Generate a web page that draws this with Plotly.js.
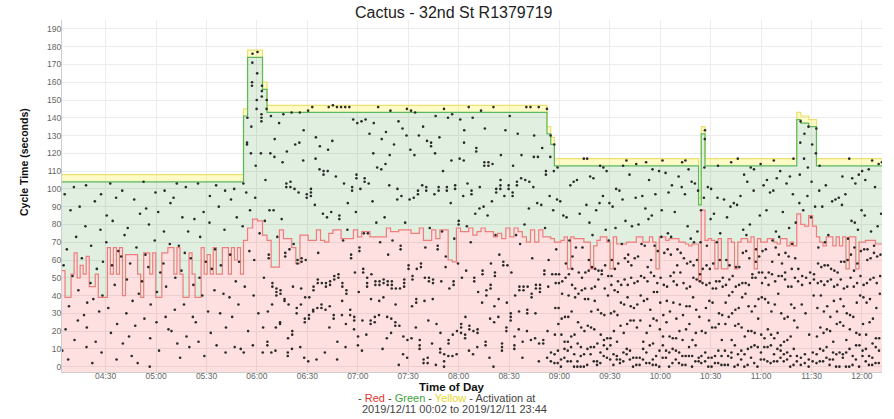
<!DOCTYPE html>
<html><head><meta charset="utf-8">
<script src="https://cdn.plot.ly/plotly-3.0.1.min.js"></script>
<style>html,body{margin:0;padding:0;background:#fff}#chart{width:894px;height:419px}</style>
</head><body><div id="chart"></div>
<script>
// ---- timing plans (cycle length in seconds, number of consecutive cycles) ----
const planLen   = [108,145,178,160,147,135,129,117,95,135,117,143,141,141,139,139,117];
const planCount = [60,  1,  3,  1, 68,  1,  1, 44, 1,  1, 28,  1,  1,  1,  1,  1, 20];
const yellowTime = 4;

// ---- end of red (start of green) per cycle, seconds ----
const redA = [54,39,39,52,64,50,57,52,62,45,45,52,39,39,39,67,52,67,52,67,40,63,63,63,63,52,39,64,64,52,64,39,39,64,64,67,67,52,67,52,39,39,64,52,39,39,67,52,63,52,67,52,52,67,67,52,67,60,67,52];
const redB = [71,78,83,82,74];
const redC = [71,56,56,77,72,72,67,58,74,74,71,71,77,71,70,75,77,77,72,72,72,77,73,76,76,73,73,73,73,78,76,76,77,77,77,75,75,78,71,71,77,72,77,77,60,59,78,76,76,78,74,76,78,76,76,73,75,72,78,73,78,76,73,70,77,70,77,73];
const redT = [73,72];
const redD1 = [70,70,71,73,55,73,72,72,72,70,70,55,68,71,73,73,70,55,73,69,69,69,70,70,70,73,73,70,70,73,70,55,73,73,71,72,72,72,70,70,69,68,69,69];
const redS = [48,88];
const redD2 = [71,72,71,55,72,55,55,72,70,55,70,72,72,70,73,55,72,70,70,72,72,70,69,72,72,68,70,68];
const redBump = [86,80,79,85,79];
const redD3 = [73,70,68,73,73,68,73,68,73,55,73,73,55,70,70,71,71,71,69,69];

// ---- vehicle activations per cycle (seconds into cycle) ----
const dotsA = ["9 57 97","21 66","34 88 4","101 51","15 73","43 90 26","61","29 79 102","22 36 11","47 68",
"38 93 2","55 14","97 31 77","59 8 40","70 85","33 103","19 82 57","46 95","4 24 65","62 99",
"13 74","78 49 30","17 58","94 6 37","23 67","2 41 86","48 104","27 63 89","56 80","0 16 35",
"71 98","42 87 25","53 9","99 58 76","28 45","69 21 92","20 95","32 50 103","68 13","54 84 5",
"35 101 64","76 17","11 61","83 46 28","25 103","73 14 50","40 87","6 59","31 81 96","19 55",
"66 43 102","12 90","30 57","41 77 99","8 22","63 39 94","100 28","48 84 11","59 35","10 79 103"];
const dotsB = ["125 126 140 8 45 98","158 160 171 120 20 88 135 65 176","177 165 150 145 113 95 40 60 12","155 152 158 142 138 120 75 30 140","150 145 105 82 50 22 8"];
const dotsC = ["12 14 31 61 63 88 120 141","8 35 45 47 88 118 128","9 22 40 42 44 73 137","24 25 41 43 83 115 142","37 38 62 64 101 103 121",
"6 8 16 35 101 104 143 66","10 18 20 45 69 100 125","30 33 58 60 98 126 143","11 35 44 59 61 116 133","5 25 27 39 60 95 97 144",
"3 27 29 39 96 98 100 146","31 32 43 45 91 117 129","4 33 47 49 64 111 124","33 35 47 86 108 110","8 32 45 47 84 110 122 146",
"22 34 46 48 87 127 147","27 29 49 51 107 146","4 14 50 52 83 85 146","29 37 45 47 71 103 146","11 24 41 43 77 146 92",
"29 32 61 63 99 101 139","21 26 28 53 87 106 108 137","12 17 42 65 67 100 138","9 26 53 55 75 104 106 139","18 45 47 50 75 103 131",
"24 26 38 52 93 120 137","25 28 46 48 81 112 146","29 37 46 48 111 128 70","10 39 47 49 84 114 132","16 28 46 48 63 102 119 144",
"19 27 44 46 48 71 125","23 25 35 44 94 100 138","1 23 44 66 68 96 134","7 17 45 47 49 81 130 145","5 15 55 57 94 122 144",
"34 49 51 95 119 143 16","22 36 38 55 97 99 130","10 12 15 56 58 102 135","2 4 37 50 67 99 101 127","2 5 26 48 50 78 124 126",
"13 38 47 49 97 120 141","1 24 66 68 99 101 129","8 10 19 48 76 110 145","0 3 7 56 62 99 101 140","6 13 15 44 92 116 142",
"6 18 46 48 72 100 102","7 58 80 82 117 139 20","19 22 24 50 96 116 126 133","16 18 28 54 79 103 146","9 21 23 70 97 99 140",
"7 20 48 50 86 121 123","11 19 21 42 89 101 144","36 52 54 90 113 115 134","12 14 40 43 85 113 115","5 27 44 46 58 93 114 146",
"0 25 34 51 53 74 98 100","28 38 63 100 102 105 119","9 11 13 57 59 96 133","20 22 36 57 100 102 141","26 28 30 53 96 98 113",
"10 12 17 40 74 102 104 131","21 31 43 45 69 106 119","5 14 43 45 80 105 146","20 30 32 45 89 104 146","15 39 41 61 101 118 130",
"16 30 44 46 92 118 146","3 13 42 44 46 91 123","13 15 52 54 78 108 110 145"];
const dotsT = ["130 118 96 60 45 20 5","125 110 88 52 8 3"];
const dotsD1 = ["2 7 18 33 47 52 66 94 112","2 9 24 33 47 52 93","0 4 18 27 41 48 85","5 10 14 28 50 58 84","3 9 14 28 40 52 71 102",
"3 11 17 31 46 55 62 104","0 7 18 39 44 67 105","0 3 13 25 41 53 86","0 6 11 22 43 50 67 117","0 7 20 38 44 53 91 117",
"1 10 23 38 54 60 81 107","7 11 22 31 44 56 74 106","3 11 21 37 45 55 88","1 3 13 32 49 54 92 113","2 8 18 30 52 54 96 112",
"6 12 15 29 44 57 77 110","5 10 16 40 51 71 92","4 12 16 30 46 51 60 90","1 7 31 20 43 55 78 100","4 6 14 29 42 48 58 99",
"2 4 23 36 46 69 94 113","3 8 19 35 49 61 82 116","7 10 24 39 46 59 63 108","4 9 26 34 50 57 79","0 5 33 26 47 61 95 114",
"1 5 35 22 48 62 80","1 5 26 40 51 69 96","4 10 14 37 50 68 89 115","2 8 19 38 48 56 83 105","2 12 32 23 53 60 85 111",
"1 4 13 27 42 51 68 97","1 6 42 26 47 65 110","0 9 21 36 50 73 88 116","5 12 17 29 46 64 109","5 9 25 37 45 66 75 98",
"0 8 17 31 51 63 73 102","2 10 16 36 48 53 87","4 9 16 27 46 57 66 107","2 8 20 35 53 64 101 115","1 6 15 29 47 61 97 116",
"1 6 21 34 44 58 79 111","6 11 24 34 45 59 72 104","0 6 15 39 50 57 70 103","3 12 19 32 49 60 76 99"];
const dotsS = ["3 5 28 48 52 70 88","2 6 20 47 55 95 112 128 133"];
const dotsD2 = ["3 8 19 33 46 57 68 101","0 5 37 26 47 55 83 100","0 5 22 36 44 58 86","2 6 22 44 48 70 95 113","2 9 30 24 48 60 75",
"1 6 15 29 45 50 94","1 9 36 24 46 60 84","1 6 28 40 49 57 90 115","5 8 15 30 42 51 92","0 12 23 32 45 56 91 117",
"1 7 24 33 46 56 96","4 9 22 39 47 64 77 108","0 7 17 41 47 65 74 104","1 10 34 20 46 61 80 112","5 11 20 31 50 52 99 111",
"2 12 19 34 50 59 66","0 11 27 38 53 62 85 114","4 8 18 39 47 53 65 102","4 11 16 38 50 66 88 105","3 11 21 36 46 53 98",
"2 12 18 31 52 59 71 99 116","3 7 16 35 48 67 76 106","3 10 19 41 51 63 73 110","5 9 12 30 51 58 87","3 7 14 27 49 53 64 103",
"4 8 15 28 45 62 78 107","0 6 17 35 45 55 69 97 117","1 10 33 26 50 61 81"];
const dotsBump = ["3 6 22 48 55 92 108 126 138","1 5 35 46 51 88 117 131","2 7 30 50 96 112 135","0 4 18 47 53 84 104 125","3 8 40 49 52 90 120 134"];
const dotsD3 = ["2 7 17 33 47 58 67 99 113","3 10 40 22 48 56 90","3 9 19 31 46 57 70 102","5 11 21 34 48 57 74","1 4 20 28 49 55 93",
"4 8 14 37 45 54 94","0 7 31 24 46 53 95","0 8 25 38 49 59 91 107","5 7 23 34 44 59 97","0 8 15 30 45 60 72 117",
"0 10 29 21 50 63 82 106","1 6 45 28 54 67 81 103","4 12 19 36 47 58 77 108","0 12 18 40 51 65 88 110","6 9 24 39 46 66 85 105",
"3 10 18 36 47 60 66 111","1 6 38 25 49 61 76 116","1 5 13 27 50 64 68 101","2 11 33 16 47 62 79 114","2 9 16 41 51 63 86 115"];

// ---- text ----
const titleText = 'Cactus - 32nd St R1379719';
const xTitle = 'Time of Day';
const yTitle = 'Cycle Time (seconds)';
const noteLine2 = '2019/12/11 00:02 to 2019/12/11 23:44';

// ---- build ----
const redEnd = [].concat(redA, redB, redC, redT, redD1, redS, redD2, redBump, redD3);
const dotLists = [].concat(dotsA, dotsB, dotsC, dotsT, dotsD1, dotsS, dotsD2, dotsBump, dotsD3);
const t0 = Date.UTC(2019, 11, 11, 4, 4, 0);
const fmt = ms => new Date(ms).toISOString().replace('T', ' ').replace('Z', '');
const cycLen = [];
planLen.forEach((L, i) => { for (let k = 0; k < planCount[i]; k++) cycLen.push(L); });

const yMin = -3, yMax = 195;
const xs = [], yR = [], yG = [], yY = [], yB = [], dx = [], dy = [];
let t = t0;
cycLen.forEach((L, i) => {
  xs.push(fmt(t)); yR.push(redEnd[i]); yG.push(L - yellowTime); yY.push(L); yB.push(yMin);
  (dotLists[i] || '').trim().split(/\s+/).forEach(v => { if (v === '') return; const s = +v; dx.push(fmt(t + s * 1000)); dy.push(s); });
  t += L * 1000;
});
const last = cycLen.length - 1;
xs.push(fmt(t)); yR.push(redEnd[last]); yG.push(cycLen[last] - yellowTime); yY.push(cycLen[last]); yB.push(yMin);
const tEnd = t;

const fillTrace = (y, color) => ({x: xs, y: y, mode: 'lines', line: {width: 0, shape: 'hv'}, fill: 'tonexty', fillcolor: color, hoverinfo: 'skip', showlegend: false});
const lineTrace = (y, color, w) => ({x: xs, y: y, mode: 'lines', line: {width: w, shape: 'hv', color: color}, hoverinfo: 'skip', showlegend: false});

const data = [
  {x: xs, y: yB, mode: 'lines', line: {width: 0, shape: 'hv'}, hoverinfo: 'skip', showlegend: false},
  fillTrace(yR, 'rgba(255,0,0,0.12)'),
  fillTrace(yG, 'rgba(0,125,0,0.12)'),
  fillTrace(yY, 'rgba(255,235,0,0.22)'),
  lineTrace(yY, '#ece070', 1.2),
  lineTrace(yG, '#5cb85c', 1.2),
  lineTrace(yR, '#f07c7c', 1.2),
  {x: dx, y: dy, mode: 'markers', marker: {size: 2.6, color: '#2a2a2a'}, hoverinfo: 'skip', showlegend: false}
];

const FONT = 'Liberation Sans, Arial, sans-serif';
const L = 62, R = 12, T = 20, B = 47, W = 894, H = 419;
const pw = W - L - R, ph = H - T - B;
const px = x => (x - L) / pw;
const py = y => (H - B - y) / ph;

const layout = {
  width: W, height: H,
  margin: {l: L, r: R, t: T, b: B, pad: 0},
  paper_bgcolor: '#fff', plot_bgcolor: '#fff',
  showlegend: false,
  font: {family: FONT},
  xaxis: {type: 'date', range: [fmt(t0), fmt(tEnd)], tickformat: '%H:%M', dtick: 1800000, tick0: '2019-12-11 04:00:00',
          showgrid: true, gridcolor: '#ececec', gridwidth: 1, showline: true, linecolor: '#cfcfcf', linewidth: 1,
          ticks: '', ticklabelstandoff: -4, zeroline: false, tickfont: {family: FONT, size: 8.5, color: '#666'}},
  yaxis: {range: [yMin, yMax], dtick: 10, tick0: 0, showgrid: true, gridcolor: '#ececec', gridwidth: 1,
          showline: true, linecolor: '#cfcfcf', linewidth: 1, ticks: '', ticklabelstandoff: -2, zeroline: false,
          tickfont: {family: FONT, size: 8.5, color: '#666'}},
  annotations: [
    {text: titleText, xref: 'paper', yref: 'paper', x: px(454), y: py(12), xanchor: 'center', yanchor: 'middle', showarrow: false, font: {family: FONT, size: 16, color: '#222'}},
    {text: '<b>' + xTitle + '</b>', xref: 'paper', yref: 'paper', x: px(452), y: py(386.5), xanchor: 'center', yanchor: 'middle', showarrow: false, font: {family: FONT, size: 11.5, color: '#111'}},
    {text: '- <span style="color:#e8302a">Red</span> - <span style="color:#3ba33b">Green</span> - <span style="color:#e8d62a">Yellow</span> - Activation at', xref: 'paper', yref: 'paper', x: px(446), y: py(397.5), xanchor: 'center', yanchor: 'middle', showarrow: false, font: {family: FONT, size: 11, color: '#444'}},
    {text: noteLine2, xref: 'paper', yref: 'paper', x: px(454), y: py(409), xanchor: 'center', yanchor: 'middle', showarrow: false, font: {family: FONT, size: 11, color: '#444'}},
    {text: '<b>' + yTitle + '</b>', xref: 'paper', yref: 'paper', x: px(24), y: py(162), xanchor: 'center', yanchor: 'middle', textangle: -90, showarrow: false, font: {family: FONT, size: 10.5, color: '#111'}}
  ]
};

Plotly.newPlot('chart', data, layout, {displayModeBar: false, staticPlot: true});
</script>
</body></html>
